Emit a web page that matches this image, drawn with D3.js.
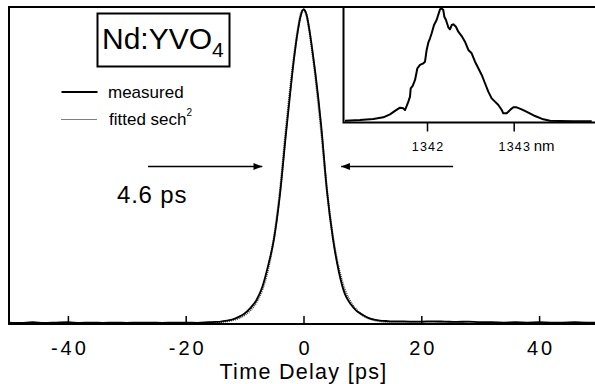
<!DOCTYPE html>
<html>
<head>
<meta charset="utf-8">
<script src="https://cdn.jsdelivr.net/npm/d3@7"></script>
<style>
  html, body { margin: 0; padding: 0; background: #fff; }
  svg { display: block; font-family: "Liberation Sans", Arial, Helvetica, sans-serif; }
</style>
</head>
<body>
<svg id="chart" width="595" height="384"></svg>
<script>
// ---------------- data ----------------
const xTicks = [-40, -20, 0, 20, 40];
const xTickLabels = ["-40", "-20", "0", "20", "40"];
const xAxisTitle = "Time Delay [ps]";

const measuredT = [-50,-48,-46,-44,-42,-40,-38,-36,-34,-32,-30,-28,-26,-24,-22,-20,-18,-16,-15,-14,-13,
  -12,-11,-10,-9,-8,-7,-6,-5,-4,-3,-2.5,-2,-1.5,-1,-0.5,0,0.5,1,1.5,2,2.5,3,4,5,6,7,8,9,10,11,12,13,14,15,16,
  18,20,22,24,26,28,30,32,34,36,38,40,42,44,46,48,50];
const measuredV = [0.003,0.002,0.004,0.002,0.003,0.004,0.002,0.003,0.002,0.003,0.002,0.003,0.003,0.002,0.003,0.003,0.002,0.004,0.005,0.006,0.009,
  0.013,0.021,0.032,0.05,0.074,0.116,0.185,0.27,0.41,0.6,0.69,0.78,0.86,0.927,0.978,1.0,0.985,0.935,0.87,0.80,0.72,0.63,0.42,0.27,0.165,0.095,0.062,0.04,0.028,0.018,0.012,0.009,0.008,0.007,0.007,
  0.006,0.006,0.007,0.006,0.005,0.006,0.004,0.004,0.003,0.004,0.003,0.004,0.003,0.003,0.004,0.003,0.003];

const fitT = [-50,-30,-20,-16,-14,-12,-11,-10,-9,-8,-7,-6,-5,-4,-3,-2.5,-2,-1.5,-1,-0.5,0,
  0.5,1,1.5,2,2.5,3,4,5,6,7,8,9,10,11,12,14,16,20,30,50];
const fitV = [0,0,0.001,0.002,0.005,0.011,0.017,0.027,0.043,0.068,0.108,0.175,0.275,0.42,0.615,0.705,0.79,0.865,0.932,0.982,1.0,
  0.982,0.932,0.865,0.79,0.705,0.615,0.42,0.275,0.175,0.108,0.068,0.043,0.027,0.017,0.011,0.005,0.002,0.001,0,0];

const specNm = [1341.054,1341.227,1341.381,1341.496,1341.573,1341.631,1341.689,1341.727,1341.746,1341.766,1341.785,1341.804,
  1341.812,1341.835,1341.862,1341.889,1341.919,1341.958,1341.977,1341.996,1342.015,1342.035,1342.054,1342.081,1342.111,
  1342.150,1342.169,1342.188,1342.200,1342.219,1342.246,1342.265,1342.285,1342.304,1342.334,1342.361,1342.400,1342.438,
  1342.477,1342.515,1342.554,1342.592,1342.631,1342.669,1342.707,1342.746,1342.784,1342.823,1342.862,1342.880,1342.919,
  1342.938,1342.965,1342.996,1343.034,1343.092,1343.169,1343.246,1343.342,1343.419,1343.534,1343.688,1343.900];
const specV = [0.007,0.013,0.022,0.037,0.063,0.093,0.122,0.116,0.101,0.137,0.175,0.219,
  0.292,0.313,0.366,0.469,0.498,0.513,0.527,0.630,0.694,0.733,0.777,0.850,0.894,
  0.988,0.997,0.982,0.923,0.894,0.830,0.812,0.850,0.856,0.835,0.791,0.753,0.703,
  0.630,0.601,0.527,0.469,0.410,0.337,0.263,0.204,0.175,0.145,0.101,0.072,0.072,
  0.086,0.107,0.125,0.125,0.107,0.078,0.048,0.019,0.007,0.004,0.002,0.002];
const specTicks = [1342, 1343];
const specTickLabels = ["1342", "1343"];
const specUnit = "nm";

const sampleName = "Nd:YVO";
const sampleSub = "4";
const legendLabels = ["measured", "fitted sech"];
const widthLabel = "4.6 ps";
const arrowTips = [-7.0, 6.4];
const arrowTails = [-26.4, 25.4];

// ---------------- layout ----------------
const svg = d3.select("#chart");
const axisY = 324;
const frameLeft = 9, frameTop = 7, frameRight = 595;

const x = d3.scaleLinear().domain([-50, 50]).range([9, 598]);
const y = d3.scaleLinear().domain([0, 1]).range([323.5, 9.5]);

const ix = d3.scaleLinear().domain([1342, 1343]).range([427, 513.7]);
const iy = d3.scaleLinear().domain([0, 1]).range([121.5, 8]);
const insetLeft = 343.5, insetBottom = 122.5;

// clip for main plot
const defs = svg.append("defs");
defs.append("clipPath").attr("id", "mainClip")
  .append("rect").attr("x", frameLeft).attr("y", frameTop).attr("width", frameRight - frameLeft).attr("height", axisY - frameTop);
defs.append("clipPath").attr("id", "insetClip")
  .append("rect").attr("x", insetLeft).attr("y", frameTop).attr("width", frameRight - insetLeft).attr("height", insetBottom - frameTop);

// arrow marker
defs.append("marker").attr("id", "arrowHead")
  .attr("viewBox", "0 0 10 8").attr("refX", 10).attr("refY", 4)
  .attr("markerWidth", 10).attr("markerHeight", 7).attr("markerUnits", "userSpaceOnUse")
  .attr("orient", "auto")
  .append("path").attr("d", "M0,0 L10,4 L0,8 Z").attr("fill", "#000");

// fitted curve (dotted)
const fitLine = d3.line().x((d, i) => x(fitT[i])).y(d => y(d)).curve(d3.curveMonotoneX);
svg.append("path").attr("clip-path", "url(#mainClip)")
  .attr("d", fitLine(fitV))
  .attr("fill", "none").attr("stroke", "#444").attr("stroke-width", 2.2)
  .attr("stroke-dasharray", "1,1");

// measured curve
const measLine = d3.line().x((d, i) => x(measuredT[i])).y(d => y(d)).curve(d3.curveMonotoneX);
svg.append("path").attr("clip-path", "url(#mainClip)")
  .attr("d", measLine(measuredV))
  .attr("fill", "none").attr("stroke", "#000").attr("stroke-width", 1.8);

// main frame
svg.append("path")
  .attr("d", `M${frameRight},${frameTop} L${frameLeft},${frameTop} L${frameLeft},${axisY} L${frameRight},${axisY}`)
  .attr("fill", "none").attr("stroke", "#000").attr("stroke-width", 2);

// x axis
const xAxis = d3.axisBottom(x).tickValues(xTicks).tickSize(-8).tickFormat((d, i) => xTickLabels[i]);
const gx = svg.append("g").attr("transform", `translate(0,${axisY})`).call(xAxis);
gx.select(".domain").remove();
gx.selectAll(".tick line").attr("stroke", "#000").attr("stroke-width", 1.5);
gx.selectAll(".tick text")
  .attr("y", 31).attr("dy", 0)
  .attr("font-size", 20).attr("letter-spacing", "3px")
  .attr("dx", 1.5)
  .attr("fill", "#000")
  .attr("font-family", "Liberation Sans, Arial, sans-serif");

svg.append("text").attr("x", 303.5).attr("y", 378.7)
  .attr("text-anchor", "middle").attr("font-size", 21.5).attr("letter-spacing", "1.3px")
  .text(xAxisTitle);

// inset
svg.append("rect").attr("x", insetLeft).attr("y", frameTop + 1).attr("width", frameRight - insetLeft).attr("height", insetBottom - frameTop - 1)
  .attr("fill", "#fff");
const specLine = d3.line().x((d, i) => ix(specNm[i])).y(d => iy(d));
svg.append("path").attr("clip-path", "url(#insetClip)")
  .attr("d", specLine(specV))
  .attr("fill", "none").attr("stroke", "#000").attr("stroke-width", 2).attr("stroke-linejoin", "round");
svg.append("path")
  .attr("d", `M${insetLeft},${frameTop} L${insetLeft},${insetBottom} L${frameRight},${insetBottom}`)
  .attr("fill", "none").attr("stroke", "#000").attr("stroke-width", 2);
const ixAxis = d3.axisBottom(ix).tickValues(specTicks).tickSize(9).tickFormat((d, i) => specTickLabels[i]);
const gix = svg.append("g").attr("transform", `translate(0,${insetBottom})`).call(ixAxis);
gix.select(".domain").remove();
gix.selectAll(".tick line").attr("stroke", "#000").attr("stroke-width", 1.5);
gix.selectAll(".tick text")
  .attr("y", 28.2).attr("dy", 0)
  .attr("font-size", 12.5).attr("letter-spacing", "1.2px").attr("dx", 0.6)
  .attr("fill", "#000")
  .attr("font-family", "Liberation Sans, Arial, sans-serif");
svg.append("text").attr("x", ix(1343) + 20).attr("y", insetBottom + 28.2)
  .attr("font-size", 15).text(specUnit);

// sample label box
svg.append("rect").attr("x", 97.5).attr("y", 13.5).attr("width", 132).attr("height", 53)
  .attr("fill", "none").attr("stroke", "#000").attr("stroke-width", 2);
const title = svg.append("text").attr("x", 102).attr("y", 48.5).attr("font-size", 30);
title.append("tspan").text(sampleName);
title.append("tspan").attr("font-size", 21).attr("dy", 8.5).text(sampleSub);

// legend
svg.append("line").attr("x1", 61.5).attr("x2", 97.5).attr("y1", 92).attr("y2", 92)
  .attr("stroke", "#000").attr("stroke-width", 1.8);
svg.append("line").attr("x1", 61.5).attr("x2", 97.5).attr("y1", 119.5).attr("y2", 119.5)
  .attr("stroke", "#000").attr("stroke-width", 1.2).attr("stroke-dasharray", "1,1");
svg.append("text").attr("x", 108).attr("y", 97.7).attr("font-size", 17).text(legendLabels[0]);
const lt = svg.append("text").attr("x", 109).attr("y", 124.5).attr("font-size", 17);
lt.append("tspan").text(legendLabels[1]);
lt.append("tspan").attr("font-size", 10).attr("dy", -9).text("2");

// FWHM arrows
[0, 1].forEach(i => {
  svg.append("line")
    .attr("x1", x(arrowTails[i])).attr("x2", x(arrowTips[i]))
    .attr("y1", y(0.5)).attr("y2", y(0.5))
    .attr("stroke", "#000").attr("stroke-width", 1.6)
    .attr("marker-end", "url(#arrowHead)");
});
svg.append("text").attr("x", 117).attr("y", 203).attr("font-size", 24).attr("letter-spacing", "0.8px")
  .text(widthLabel);
</script>
</body>
</html>
